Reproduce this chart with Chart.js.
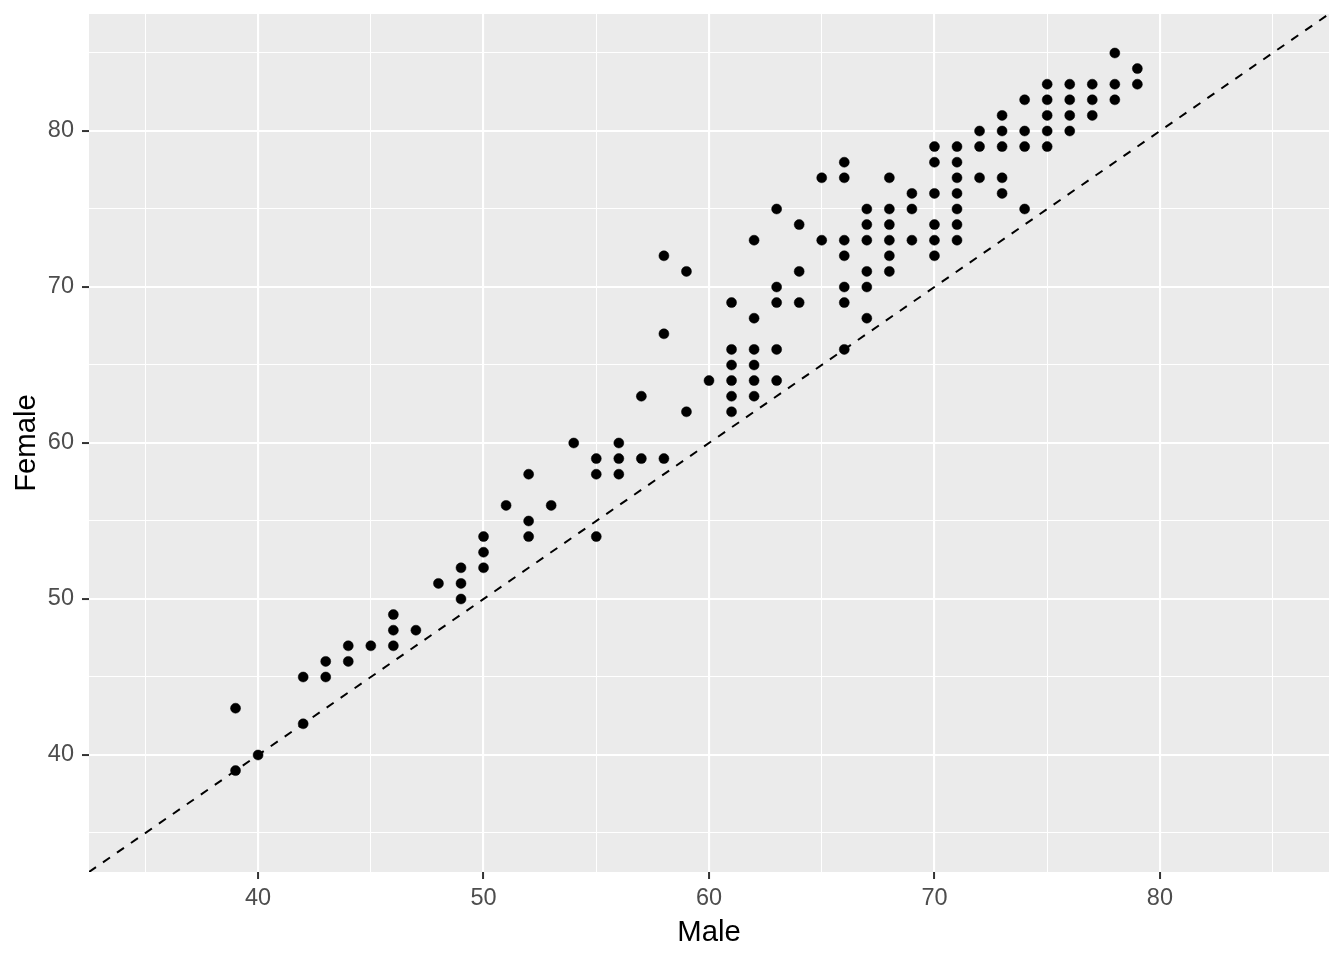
<!DOCTYPE html>
<html>
<head>
<meta charset="utf-8">
<script src="https://cdn.jsdelivr.net/npm/chart.js@4.4.1/dist/chart.umd.min.js"></script>
<style>
  html, body { margin: 0; padding: 0; background: #ffffff; }
  #wrap { width: 1344px; height: 960px; position: relative; }
</style>
</head>
<body>
<div id="wrap"><canvas id="c" width="1344" height="960"></canvas></div>
<script>
// ---- data ----
const maleValues = [
  39,39,40,42,42,43,43,44,44,45,46,46,46,47,48,49,49,49,50,50,50,51,52,52,52,53,54,
  55,55,55,56,56,56,57,57,58,58,58,59,59,60,
  61,61,61,61,61,61,62,62,62,62,62,62,63,63,63,63,63,64,64,64,65,65,
  66,66,66,66,66,66,66,67,67,67,67,67,67,68,68,68,68,68,68,69,69,69,
  70,70,70,70,70,70,71,71,71,71,71,71,71,72,72,72,73,73,73,73,73,
  74,74,74,74,75,75,75,75,75,76,76,76,76,77,77,77,78,78,78,79,79
];
const femaleValues = [
  43,39,40,45,42,46,45,47,46,47,49,48,47,48,51,52,51,50,54,53,52,56,58,55,54,56,60,
  59,58,54,60,59,58,63,59,72,67,59,71,62,64,
  69,66,65,64,63,62,73,68,66,65,64,63,75,70,69,66,64,74,71,69,77,73,
  78,77,73,72,70,69,66,75,74,73,71,70,68,77,75,74,73,72,71,76,75,73,
  79,78,76,74,73,72,79,78,77,76,75,74,73,80,79,77,81,80,79,77,76,
  82,80,79,75,83,82,81,80,79,83,82,81,80,83,82,81,85,83,82,84,83
];
const axisLimits = [32.5, 87.5];          // same limits on both axes
const majorTicks = [40, 50, 60, 70, 80];
const minorTicks = [35, 45, 55, 65, 75, 85];
const xTitle = 'Male';
const yTitle = 'Female';

// ---- build datasets ----
const points = maleValues.map((m, i) => ({ x: m, y: femaleValues[i] }));
const identityLine = axisLimits.map(v => ({ x: v, y: v }));
const allTicks = majorTicks.concat(minorTicks).sort((a, b) => a - b);

const isMajor = v => majorTicks.includes(v);

const panelBg = {
  id: 'panelBg',
  beforeDraw(chart) {
    const { ctx, chartArea: a } = chart;
    ctx.save();
    ctx.fillStyle = '#EBEBEB';
    ctx.fillRect(a.left, a.top, a.right - a.left, a.bottom - a.top);
    ctx.restore();
  }
};

function scaleOpts(titleText, isX) {
  return {
    type: 'linear',
    min: axisLimits[0],
    max: axisLimits[1],
    afterBuildTicks(scale) {
      scale.ticks = allTicks.map(v => ({ value: v }));
    },
    afterFit(scale) {
      if (isX) { scale.height = 88; scale.paddingLeft = 0; scale.paddingRight = 0; }
      else { scale.width = 89; scale.paddingTop = 0; scale.paddingBottom = 0; }
    },
    border: { display: false },
    grid: {
      color: '#FFFFFF',
      lineWidth: ctx => (ctx.tick && isMajor(ctx.tick.value)) ? 2.1 : 1.05,
      drawTicks: true,
      tickLength: 7,
      tickWidth: 2,
      tickColor: ctx => (ctx.tick && isMajor(ctx.tick.value)) ? '#333333' : 'rgba(0,0,0,0)',
      z: 0
    },
    ticks: {
      autoSkip: false,
      maxRotation: 0,
      color: '#4D4D4D',
      padding: isX ? 5 : 8,
      font: { family: '"Liberation Sans", Arial, sans-serif', size: 23.5 },
      callback: v => isMajor(v) ? String(v) : ''
    },
    title: {
      display: true,
      text: titleText,
      color: '#000000',
      font: { family: '"Liberation Sans", Arial, sans-serif', size: 29.3, lineHeight: 1.2 },
      padding: isX ? { top: 0, bottom: 10 } : { top: 9, bottom: 0 }
    }
  };
}

new Chart(document.getElementById('c'), {
  type: 'scatter',
  data: {
    datasets: [
      {
        type: 'line',
        data: identityLine,
        borderColor: '#000000',
        borderWidth: 2,
        borderDash: [8.5, 8.5],
        pointRadius: 0,
        fill: false,
        tension: 0,
        order: 2
      },
      {
        data: points,
        backgroundColor: '#000000',
        borderColor: '#000000',
        borderWidth: 0.5,
        pointRadius: 5,
        pointHoverRadius: 5,
        order: 1
      }
    ]
  },
  options: {
    responsive: false,
    animation: false,
    devicePixelRatio: 1,
    layout: { padding: { left: 0, right: 15, top: 14, bottom: 0 } },
    plugins: { legend: { display: false }, tooltip: { enabled: false } },
    scales: {
      x: scaleOpts(xTitle, true),
      y: scaleOpts(yTitle, false)
    }
  },
  plugins: [panelBg]
});
</script>
</body>
</html>
